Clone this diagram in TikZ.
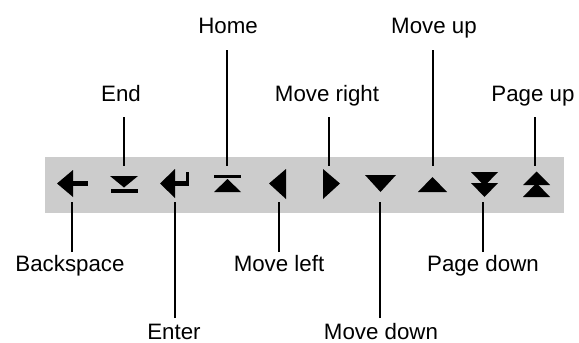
\documentclass[tikz,border=0pt]{standalone}
\usepackage{fontspec}
\setmainfont{Liberation Sans}
\begin{document}
\begin{tikzpicture}[x=1pt,y=-1pt,
  lbl/.style={anchor=base,inner sep=0pt,font=\fontsize{22.3}{26}\selectfont},
  lead/.style={draw=black,line width=1.1pt},
  glyph/.style={fill=black,draw=none},
  barbg/.style={fill=black!20,draw=none}]
\useasboundingbox (0,0) rectangle (579,343);
% bar
\node[barbg,minimum width=519pt,minimum height=56pt,inner sep=0pt] (bar) at (304.5,185) {};
% icons
% Backspace
\fill[glyph] (57,183.5) -- (73,170) -- (73,197) -- cycle;
\fill[glyph] (72,181.3) rectangle (88,185.7);
\coordinate (iBack) at (72,202);
% End
\fill[glyph] (110,176) -- (138,176) -- (124,187.5) -- cycle;
\fill[glyph] (111,189) rectangle (138,193);
\coordinate (iEnd) at (124,166);
% Enter
\fill[glyph] (160,183.5) -- (175,169) -- (175,198) -- cycle;
\fill[glyph] (174,181.3) rectangle (189,185.7);
\fill[glyph] (185.5,171.5) rectangle (189,185.7);
\coordinate (iEnter) at (175,202);
% Home
\fill[glyph] (214,174.5) rectangle (241,178);
\fill[glyph] (227.5,179) -- (241,192) -- (214,192) -- cycle;
\coordinate (iHome) at (227,166);
% Move left
\fill[glyph] (269,183.5) -- (286,169) -- (286,199) -- cycle;
\coordinate (iLeft) at (279,202);
% Move right
\fill[glyph] (340,183.5) -- (323,169) -- (323,199) -- cycle;
\coordinate (iRight) at (329,166);
% Move down
\fill[glyph] (365,175) -- (396,175) -- (380.5,192) -- cycle;
\coordinate (iDown) at (380,202);
% Move up
\fill[glyph] (418,192) -- (447,192) -- (432.5,177) -- cycle;
\coordinate (iUp) at (433,166);
% Page down
\fill[glyph] (471,172) -- (498,172) -- (484.5,186) -- cycle;
\fill[glyph] (471,183) -- (498,183) -- (484.5,197) -- cycle;
\coordinate (iPgDn) at (483,202);
% Page up
\fill[glyph] (523,185) -- (550,185) -- (536.5,171.5) -- cycle;
\fill[glyph] (523,197) -- (550,197) -- (536.5,183) -- cycle;
\coordinate (iPgUp) at (535,166);
% labels
\node[lbl] (tHome) at (228,33) {Home};
\node[lbl] (tUp) at (434,33) {Move up};
\node[lbl] (tEnd) at (121,101) {End};
\node[lbl] (tRight) at (327,101) {Move right};
\node[lbl] (tPgUp) at (533,101) {Page up};
\node[lbl] (tBack) at (70,271) {Backspace};
\node[lbl] (tLeft) at (279,271) {Move left};
\node[lbl] (tPgDn) at (483,271) {Page down};
\node[lbl] (tEnter) at (174,339.5) {Enter};
\node[lbl] (tDown) at (381,339.5) {Move down};
% line ends near labels
\coordinate (cHome) at (227,50);
\coordinate (cUp) at (433,50);
\coordinate (cEnd) at (124,117);
\coordinate (cRight) at (329,117);
\coordinate (cPgUp) at (535,117);
\coordinate (cBack) at (72,252);
\coordinate (cLeft) at (279,252);
\coordinate (cPgDn) at (483,252);
\coordinate (cEnter) at (175,318);
\coordinate (cDown) at (380,318);
% leaders
\draw[lead] (cHome) -- (iHome);
\draw[lead] (cUp) -- (iUp);
\draw[lead] (cEnd) -- (iEnd);
\draw[lead] (cRight) -- (iRight);
\draw[lead] (cPgUp) -- (iPgUp);
\draw[lead] (cBack) -- (iBack);
\draw[lead] (cLeft) -- (iLeft);
\draw[lead] (cPgDn) -- (iPgDn);
\draw[lead] (cEnter) -- (iEnter);
\draw[lead] (cDown) -- (iDown);
\end{tikzpicture}
\end{document}
